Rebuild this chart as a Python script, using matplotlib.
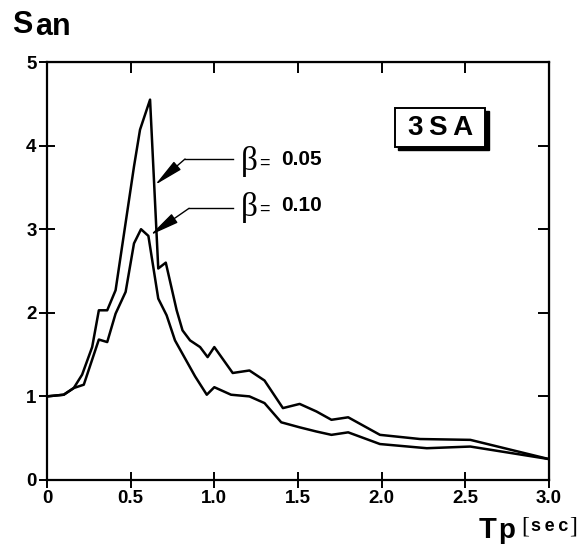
import numpy as np
import matplotlib.pyplot as plt
from matplotlib.patches import Rectangle

plt.rcParams['font.family'] = ['Liberation Sans', 'DejaVu Sans']

# beta = 0.05 curve
t_005 = [0.0, 0.10, 0.16, 0.21, 0.27, 0.31, 0.36, 0.41, 0.52, 0.556, 0.616,
         0.665, 0.71, 0.775, 0.81, 0.855, 0.915, 0.96, 1.00, 1.11, 1.21, 1.30,
         1.41, 1.51, 1.61, 1.70, 1.80, 1.99, 2.23, 2.53, 3.00]
s_005 = [1.00, 1.02, 1.10, 1.26, 1.59, 2.03, 2.03, 2.27, 3.75, 4.19, 4.55,
         2.53, 2.60, 2.03, 1.79, 1.67, 1.59, 1.47, 1.59, 1.28, 1.31, 1.19,
         0.86, 0.91, 0.82, 0.72, 0.75, 0.54, 0.49, 0.48, 0.25]

# beta = 0.10 curve
t_010 = [0.0, 0.10, 0.16, 0.22, 0.27, 0.31, 0.36, 0.41, 0.47, 0.52, 0.562,
         0.606, 0.665, 0.715, 0.765, 0.885, 0.955, 1.00, 1.10, 1.21, 1.30,
         1.40, 1.51, 1.61, 1.70, 1.80, 1.99, 2.27, 2.53, 3.00]
s_010 = [1.00, 1.02, 1.10, 1.14, 1.44, 1.68, 1.65, 1.99, 2.25, 2.83, 3.00,
         2.92, 2.17, 1.97, 1.67, 1.24, 1.02, 1.11, 1.02, 1.00, 0.92,
         0.69, 0.63, 0.58, 0.54, 0.57, 0.43, 0.38, 0.40, 0.25]

x_ticks = [0, 0.5, 1.0, 1.5, 2.0, 2.5, 3.0]
x_labels = ['0', '0.5', '1.0', '1.5', '2.0', '2.5', '3.0']
y_ticks = [0, 1, 2, 3, 4, 5]

fig = plt.figure(figsize=(5.8, 5.46), dpi=100)
ax = fig.add_axes([0.081, 0.1209, 0.8655, 0.7655])

ax.plot(t_005, s_005, color='black', lw=1.8)
ax.plot(t_010, s_010, color='black', lw=1.8)

ax.set_xlim(0, 3)
ax.set_ylim(0, 5)
ax.set_xticks(x_ticks)
ax.set_xticklabels(x_labels)
ax.set_yticks(y_ticks)
for s in ax.spines.values():
    s.set_linewidth(1.6)
ax.tick_params(axis='both', which='major', direction='inout', length=11,
               width=1.4, labelsize=13.5, pad=2)
for lbl in ax.get_xticklabels() + ax.get_yticklabels():
    lbl.set_fontweight('bold')
# inward ticks on top/right without labels
axt = ax.secondary_xaxis('top')
axt.set_xticks(x_ticks)
axt.tick_params(direction='in', length=8, width=1.4, labeltop=False)
axr = ax.secondary_yaxis('right')
axr.set_yticks(y_ticks)
axr.tick_params(direction='in', length=8, width=1.4, labelright=False)

# annotations for the two damping curves
arrow = dict(arrowstyle='-|>,head_length=1.2,head_width=0.22', color='black',
             lw=1.0, shrinkA=0, shrinkB=0, mutation_scale=15)
ax.plot([0.825, 1.11], [3.84, 3.84], color='black', lw=1.0)
ax.annotate('', xy=(0.646, 3.53), xytext=(0.825, 3.84), arrowprops=arrow)
ax.plot([0.849, 1.11], [3.25, 3.25], color='black', lw=1.0)
ax.annotate('', xy=(0.618, 2.93), xytext=(0.849, 3.25), arrowprops=arrow)

for yy, val in [(3.83, '0.05'), (3.28, '0.10')]:
    ax.text(1.16, yy - 0.02, 'β', family='Liberation Serif', fontsize=24, va='center')
    ax.text(1.265, yy - 0.04, '=', fontsize=13, va='center')
    ax.text(1.40, yy, val, fontsize=15, fontweight='bold', va='center')

# 3SA box with shadow
ax.add_patch(Rectangle((2.10, 3.95), 0.54, 0.47, facecolor='black',
                       edgecolor='black', zorder=3))
ax.add_patch(Rectangle((2.08, 3.98), 0.54, 0.47, facecolor='white',
                       edgecolor='black', lw=1.4, zorder=4))
ax.text(2.355, 4.215, '3\u2009S\u2009A', fontsize=20, fontweight='bold',
        ha='center', va='center', zorder=5)

# axis titles
fig.text(12 / 580, 1 - 33 / 546, 'S', fontsize=22, fontweight='bold', va='baseline')
fig.text(35 / 580, 1 - 35 / 546, 'an', fontsize=22, fontweight='bold', va='baseline')
fig.text(479 / 580, 1 - 538 / 546, 'T', fontsize=21, fontweight='bold', va='baseline')
fig.text(498 / 580, 1 - 538 / 546, 'p', fontsize=20, fontweight='bold', va='baseline')
fig.text(521 / 580, 1 - 533 / 546, '[', family='Liberation Serif', fontsize=17, va='baseline')
fig.text(531 / 580, 1 - 531 / 546, 's\u2009e\u2009c', fontsize=13, fontweight='bold', va='baseline')
fig.text(569 / 580, 1 - 533 / 546, ']', family='Liberation Serif', fontsize=17, va='baseline')

fig.savefig('out.png', dpi=100)
